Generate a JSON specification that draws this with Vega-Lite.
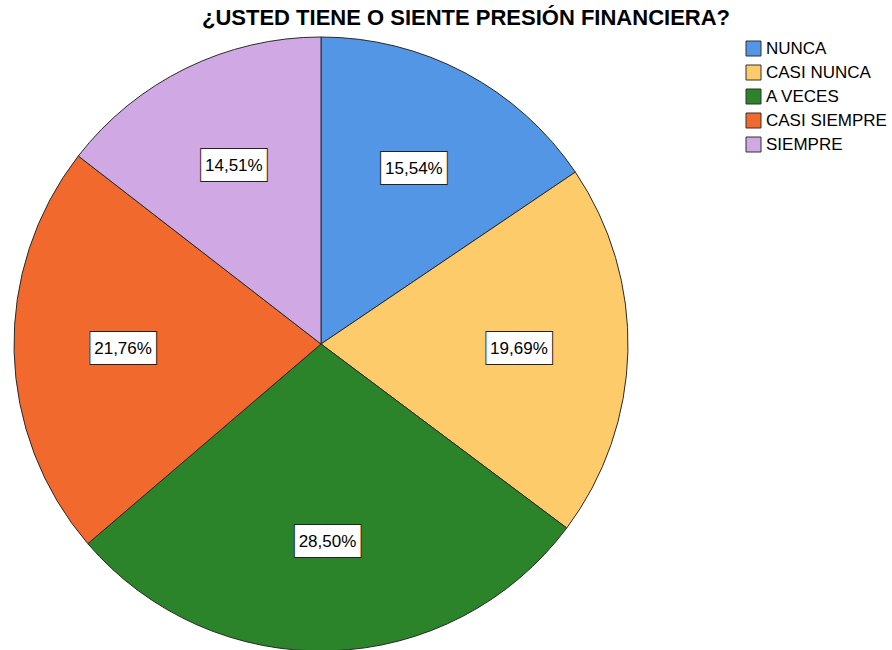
{
  "$schema": "https://vega.github.io/schema/vega-lite/v6.json",
  "autosize": "none",
  "width": 642,
  "height": 614,
  "padding": {"left": 0, "top": 37, "right": 250, "bottom": 0},
  "background": "white",
  "title": {
    "text": "¿USTED TIENE O SIENTE PRESIÓN FINANCIERA?",
    "font": "Liberation Sans",
    "fontSize": 22,
    "fontWeight": "bold",
    "color": "#000000",
    "anchor": "middle",
    "dx": 145,
    "offset": 5
  },
  "data": {
    "values": [
      {"k": 1, "respuesta": "NUNCA", "pct": 15.54, "etiqueta": "15,54%"},
      {"k": 2, "respuesta": "CASI NUNCA", "pct": 19.69, "etiqueta": "19,69%"},
      {"k": 3, "respuesta": "A VECES", "pct": 28.50, "etiqueta": "28,50%"},
      {"k": 4, "respuesta": "CASI SIEMPRE", "pct": 21.76, "etiqueta": "21,76%"},
      {"k": 5, "respuesta": "SIEMPRE", "pct": 14.51, "etiqueta": "14,51%"}
    ]
  },
  "encoding": {
    "theta": {"field": "pct", "type": "quantitative", "stack": true},
    "order": {"field": "k", "type": "quantitative"}
  },
  "layer": [
    {
      "mark": {"type": "arc", "stroke": "#2a2a2a", "strokeWidth": 1},
      "encoding": {
        "color": {
          "field": "respuesta",
          "type": "nominal",
          "sort": ["NUNCA", "CASI NUNCA", "A VECES", "CASI SIEMPRE", "SIEMPRE"],
          "scale": {
            "domain": ["NUNCA", "CASI NUNCA", "A VECES", "CASI SIEMPRE", "SIEMPRE"],
            "range": ["#5296e5", "#fecb6b", "#2b842a", "#f2692d", "#d0a9e4"]
          },
          "legend": {
            "title": null,
            "orient": "none",
            "legendX": 745,
            "legendY": 3,
            "padding": 0,
            "symbolType": "square",
            "symbolSize": 225,
            "symbolStrokeColor": "#333333",
            "symbolStrokeWidth": 1,
            "symbolOpacity": 1,
            "labelFont": "Liberation Sans",
            "labelFontSize": 17,
            "labelColor": "#000000",
            "labelOffset": 4,
            "rowPadding": 5
          }
        }
      }
    },
    {
      "mark": {"type": "text", "radius": 198, "text": "████", "font": "DejaVu Sans Mono", "fontSize": 27, "color": "#222222", "stroke": "#222222", "strokeWidth": 2, "baseline": "middle", "align": "center"}
    },
    {
      "mark": {"type": "text", "radius": 198, "text": "████", "font": "DejaVu Sans Mono", "fontSize": 27, "color": "#ffffff", "baseline": "middle", "align": "center"}
    },
    {
      "mark": {"type": "text", "radius": 198, "font": "Liberation Sans", "fontSize": 17, "color": "#000000", "baseline": "middle", "align": "center"},
      "encoding": {"text": {"field": "etiqueta", "type": "nominal"}}
    }
  ],
  "config": {"view": {"stroke": null}}
}
